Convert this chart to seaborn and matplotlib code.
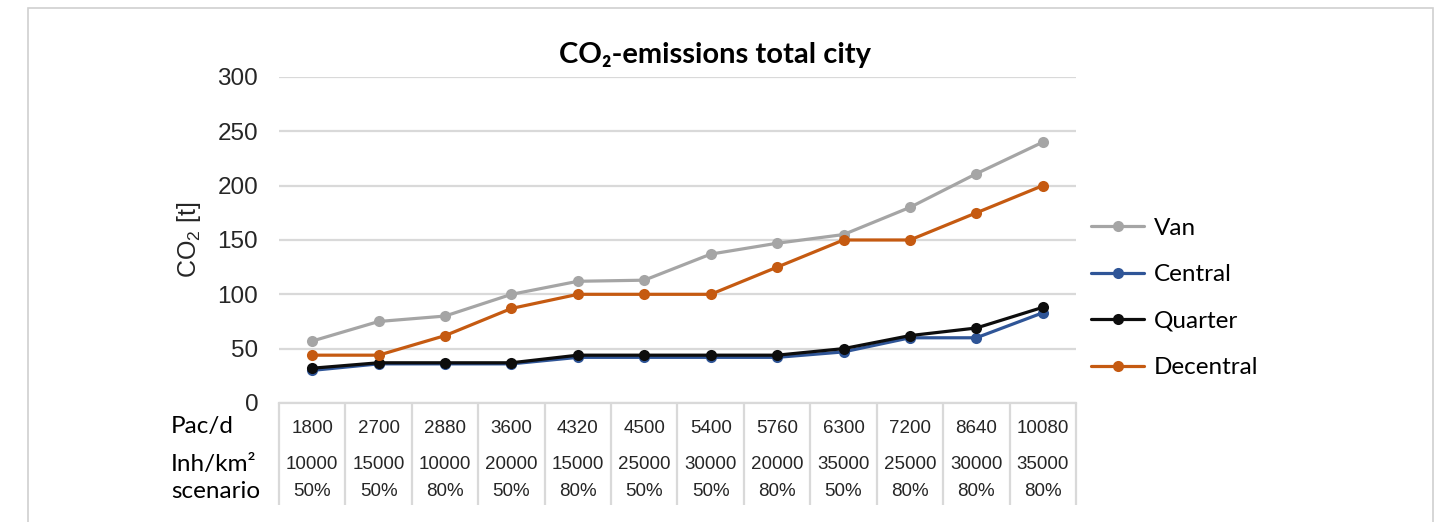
"""
CO2 emissions of the total city for the four delivery concepts,
with the scenario table drawn underneath the category axis.
"""
import matplotlib.pyplot as plt
import matplotlib.transforms as mtransforms
import pandas as pd
import seaborn as sns

# category table below the x axis
pac_per_day = ["1800", "2700", "2880", "3600", "4320", "4500",
               "5400", "5760", "6300", "7200", "8640", "10080"]
inh_per_km2 = ["10000", "15000", "10000", "20000", "15000", "25000",
               "30000", "20000", "35000", "25000", "30000", "35000"]
scenario = ["50%", "50%", "80%", "50%", "80%", "50%",
            "50%", "80%", "50%", "80%", "80%", "80%"]

# series values (t CO2)
van = [57, 75, 80, 100, 112, 113, 137, 147, 155, 180, 211, 240]
central = [30, 36, 36, 36, 42, 42, 42, 42, 47, 60, 60, 83]
quarter = [32, 37, 37, 37, 44, 44, 44, 44, 50, 62, 69, 88]
decentral = [44, 44, 62, 87, 100, 100, 100, 125, 150, 150, 175, 200]

series_names = ["Van", "Central", "Quarter", "Decentral"]
palette = {"Van": "#a5a5a5", "Central": "#2f5597",
           "Quarter": "#0d0d0d", "Decentral": "#c55a11"}

GRID = "#d9d9d9"
CALIBRI = ["Lato", "DejaVu Sans"]
ARIAL = ["Liberation Sans", "DejaVu Sans"]

sns.set_style("white")
plt.rcParams["font.family"] = ARIAL
plt.rcParams["mathtext.fontset"] = "custom"
plt.rcParams["mathtext.rm"] = "Liberation Sans"

dataf = pd.DataFrame(
    {
        "pos": list(range(len(pac_per_day))) * 4,
        "co2": van + central + quarter + decentral,
        "series": [name for name in series_names for _ in pac_per_day],
    }
)

fig = plt.figure(figsize=(14.45, 5.22), dpi=100)
ax = fig.add_axes([0.1931, 0.228, 0.5515, 0.6245])

sns.lineplot(
    data=dataf, x="pos", y="co2", hue="series", hue_order=series_names,
    palette=palette, marker="o", markersize=8, markeredgewidth=0,
    linewidth=2.3, ax=ax, legend=True,
)

ax.set_xlim(-0.5, len(pac_per_day) - 0.5)
ax.set_ylim(0, 300)
ax.set_yticks(range(0, 301, 50))
ax.set_xticks([])
ax.set_xlabel("")
ax.yaxis.grid(True, color=GRID, linewidth=1.6)
ax.set_axisbelow(True)
for side in ("left", "top", "right"):
    ax.spines[side].set_visible(False)
ax.spines["bottom"].set_color(GRID)
ax.spines["bottom"].set_linewidth(1.6)
ax.tick_params(axis="y", length=0, labelsize=17.5, pad=15, labelcolor="#262626")
ax.set_ylabel("CO$_2$ [t]", fontsize=18, color="#262626")
ax.yaxis.set_label_coords(-0.095, 0.5)

# table under the axis
trans = mtransforms.blended_transform_factory(ax.transData, ax.transAxes)
bounds = [i - 0.5 for i in range(len(pac_per_day) + 1)]
ax.vlines(bounds, -0.313, 0, transform=trans, colors=GRID,
          linewidth=1.6, clip_on=False)
for i, (pac, inh, sc) in enumerate(zip(pac_per_day, inh_per_km2, scenario)):
    ax.text(i, -0.078, pac, transform=trans, ha="center", va="center",
            fontsize=13.5, color="#262626")
    ax.text(i, -0.19, inh, transform=trans, ha="center", va="center",
            fontsize=13.5, color="#262626")
    ax.text(i, -0.27, sc, transform=trans, ha="center", va="center",
            fontsize=13.5, color="#262626")

for label, ypix in (("Pac/d", 427), ("Inh/km²", 465), ("scenario", 491)):
    fig.text(171 / 1445, 1 - ypix / 522, label, ha="left", va="center",
             fontsize=17.5, family=CALIBRI, color="black")

fig.text(715 / 1445, 1 - 55 / 522, "CO₂-emissions total city", ha="center",
         va="center", fontsize=21, fontweight="bold", family=CALIBRI,
         color="black")

handles, labels = ax.get_legend_handles_labels()
leg = ax.legend(
    handles, labels, loc="center left", bbox_to_anchor=(1069 / 1445, 1 - 298 / 522),
    bbox_transform=fig.transFigure, frameon=False, handlelength=2.2,
    handletextpad=0.4, labelspacing=1.05, prop={"family": CALIBRI, "size": 17.5},
)
for text in leg.get_texts():
    text.set_color("black")

# light frame round the chart area
fig.patches.append(
    plt.Rectangle((28 / 1445, -0.05), 1405 / 1445, 1.05 - 8 / 522,
                  transform=fig.transFigure, fill=False,
                  edgecolor="#d0d0d0", linewidth=1.2)
)

fig.savefig("out.png", dpi=100)
